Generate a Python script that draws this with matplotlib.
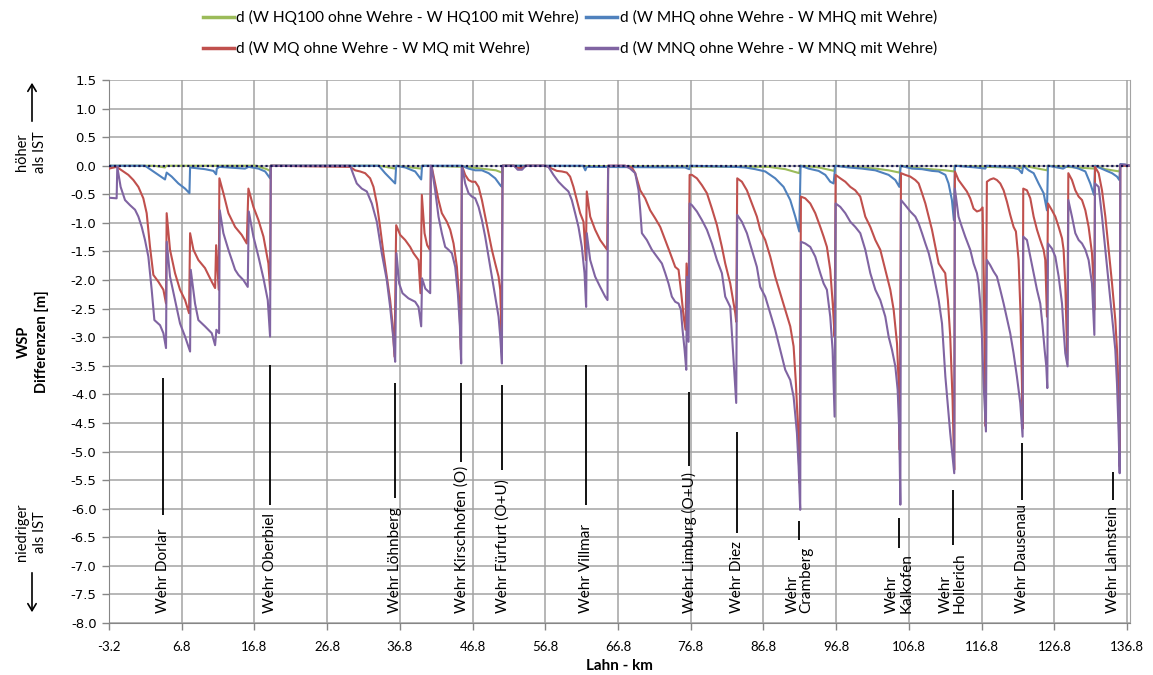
import matplotlib
matplotlib.use("Agg")
import matplotlib.pyplot as plt
import numpy as np

plt.rcParams['axes.unicode_minus'] = False
SANS = 'Lato'

# Lahn-km and water level differences (m) for the four discharge scenarios
km_hq100 = [-3.2, 3.0, 4.5, 4.7, 17.0, 18.5, 18.95, 19.05, 34.0, 36.15, 36.3, 39.7, 39.85,
            46.0, 48.0, 50.0, 50.83, 50.92, 87.5, 89.8, 91.72, 91.9, 94.4, 96.5, 96.67,
            102.2, 104.0, 105.5, 105.66, 108.6, 111.8, 113.0, 113.12, 122.3, 122.52,
            125.8, 125.92, 132.3, 132.39, 133.8, 135.73, 135.87, 137.2]
d_hq100 = [0.0, 0.0, -0.03, 0.0, 0.0, -0.06, -0.09, 0.0, 0.0, -0.05, 0.0, -0.05, 0.0,
           -0.02, -0.05, -0.08, -0.12, 0.0, -0.02, -0.06, -0.13, 0.0, -0.03, -0.09, 0.0,
           -0.05, -0.08, -0.12, 0.0, -0.05, -0.08, -0.10, 0.0, -0.04, 0.0,
           -0.08, 0.0, -0.05, 0.0, -0.06, -0.10, 0.0, 0.0]

km_mhq = [-3.2, 1.75, 2.67, 3.59, 4.5, 4.73, 5.42, 6.34, 7.26, 7.86, 7.95, 10.0, 11.16, 11.53,
          11.62, 11.98, 15.5, 16.0, 17.35, 18.27, 18.95, 19.05, 33.9, 34.77, 35.69, 36.15,
          36.29, 37.53, 38.9, 39.73, 39.85, 45.3, 46.24, 47.16, 48.08, 49.0, 49.91, 50.6,
          50.83, 50.92, 62.0, 62.3, 62.5, 76.0, 76.6, 76.7, 82.91, 84.29, 85.66, 87.04,
          88.41, 89.56, 90.48, 91.17, 91.72, 91.9, 93.0, 94.38, 95.3, 95.98, 96.44, 96.67,
          98.5, 100.34, 102.18, 104.01, 104.93, 105.48, 105.66, 107.22, 108.6, 109.97,
          110.89, 111.81, 112.25, 112.71, 112.98, 113.12, 116.0, 117.3, 117.5, 120.96,
          121.88, 122.34, 122.52, 123.26, 123.95, 124.63, 125.32, 125.78, 125.92, 128.0,
          128.7, 130.14, 131.06, 131.74, 132.25, 132.39, 133.81, 134.73, 135.41, 135.73,
          135.87, 136.5, 137.2]
d_mhq = [0.0, 0.0, -0.08, -0.16, -0.24, -0.12, -0.19, -0.31, -0.40, -0.48, -0.03, -0.06, -0.09,
         -0.15, -0.05, -0.02, -0.05, -0.02, -0.05, -0.10, -0.22, 0.0, 0.0, -0.13, -0.25, -0.31,
         0.0, -0.03, -0.10, -0.24, 0.0, 0.0, -0.05, -0.08, -0.08, -0.13, -0.22, -0.34,
         -0.37, 0.0, 0.0, -0.08, -0.02, -0.03, -0.06, 0.0, -0.02, -0.03, -0.06, -0.10,
         -0.22, -0.37, -0.60, -0.89, -1.15, 0.0, -0.05, -0.09, -0.16, -0.28, -0.31, 0.0,
         -0.03, -0.05, -0.08, -0.16, -0.25, -0.37, 0.0, -0.05, -0.06, -0.09,
         -0.10, -0.16, -0.31, -0.60, -0.95, 0.0, -0.03, -0.05, 0.0, -0.03,
         -0.06, -0.13, 0.0, -0.08, -0.13, -0.31, -0.48, -0.78, 0.0, -0.05,
         0.0, -0.05, -0.10, -0.31, -0.51, 0.0, -0.08, -0.13, -0.19, -0.25,
         0.03, 0.02, 0.0]

km_mq = [-3.2, -2.15, -1.46, -0.54, 0.15, 0.84, 1.52, 1.98, 2.44, 2.9, 3.59, 4.28, 4.64,
         4.73, 5.19, 5.88, 6.57, 7.26, 7.81, 7.95, 8.41, 9.09, 10.0, 10.93, 11.39, 11.53,
         11.89, 11.98, 12.53, 13.22, 14.14, 15.05, 15.74, 15.97, 16.66, 17.35, 18.04, 18.72,
         18.95, 19.05, 29.96, 30.64, 31.33, 32.02, 32.71, 33.17, 33.63, 34.08, 34.54, 35.0,
         35.46, 35.78, 36.06, 36.29, 36.84, 37.53, 38.21, 38.67, 39.36, 39.63, 39.82, 40.19,
         40.55, 40.92, 41.06, 41.2, 41.65, 42.11, 42.57, 43.26, 43.72, 44.18, 44.64, 44.96,
         45.19, 45.32, 45.42, 45.78, 46.24, 46.7, 47.16, 47.62, 48.08, 48.53, 48.99, 49.45,
         49.91, 50.37, 50.6, 50.78, 50.92, 52.5, 53.0, 53.6, 54.1, 56.77, 57.23, 57.69,
         58.38, 59.07, 59.75, 60.21, 60.67, 61.13, 61.59, 62.05, 62.37, 62.5, 62.97, 63.65,
         64.34, 65.03, 65.3, 65.44, 67.78, 68.24, 68.7, 69.16, 69.85, 70.53, 71.22, 71.91,
         72.6, 73.29, 73.97, 74.66, 75.12, 75.49, 75.81, 76.08, 76.22, 76.5, 76.64, 76.96,
         77.64, 78.33, 79.02, 79.71, 80.4, 81.08, 81.54, 82.23, 82.92, 83.05, 83.19, 83.83,
         84.52, 85.2, 85.89, 86.35, 87.04, 87.73, 88.41, 89.1, 89.79, 90.48, 90.94, 91.26,
         91.53, 91.76, 91.95, 92.54, 93.23, 93.92, 94.61, 95.07, 95.52, 95.98, 96.35, 96.58,
         96.72, 97.36, 98.05, 98.74, 99.42, 100.11, 100.8, 101.49, 102.18, 102.86, 103.55,
         104.24, 104.7, 105.16, 105.39, 105.53, 105.71, 106.3, 106.99, 107.68, 108.14, 108.6,
         109.06, 109.52, 109.97, 110.43, 110.89, 111.35, 111.79, 112.16, 112.48, 112.8,
         113.03, 113.12, 113.62, 114.31, 114.77, 115.23, 115.69, 116.15, 116.61, 116.93,
         117.11, 117.29, 117.52, 117.98, 118.44, 118.9, 119.36, 119.82, 120.28, 120.73,
         121.19, 121.51, 121.88, 122.16, 122.34, 122.43, 122.52, 123.03, 123.49, 123.95,
         124.41, 124.86, 125.32, 125.55, 125.78, 125.92, 126.47, 126.93, 127.39, 127.85,
         128.07, 128.3, 128.58, 128.72, 129.22, 129.68, 130.14, 130.6, 131.06, 131.51,
         131.97, 132.2, 132.3, 132.39, 132.89, 133.35, 133.81, 134.27, 134.73, 135.18,
         135.41, 135.64, 135.78, 135.87, 137.2]
d_mq = [-0.05, -0.02, -0.08, -0.16, -0.25, -0.37, -0.57, -0.83, -1.42, -1.91, -2.03, -2.17, -2.41,
        -0.83, -1.47, -1.88, -2.17, -2.35, -2.58, -1.18, -1.47, -1.65, -1.79, -2.03, -2.14, -1.39,
        -2.17, -0.22, -0.48, -0.83, -1.07, -1.21, -1.36, -0.40, -0.72, -0.95, -1.24, -1.71,
        -2.17, 0.0, -0.02, -0.08, -0.10, -0.13, -0.22, -0.37, -0.66, -1.07, -1.53, -1.94,
        -2.35, -2.76, -3.34, -1.04, -1.21, -1.30, -1.42, -1.53, -1.65, -2.23, -0.51, -1.18,
        -1.39, -1.47, 0.0, -0.03, -0.31, -0.60, -0.83, -0.98, -1.12, -1.36, -1.77, -2.35,
        -3.22, -0.02, -0.03, -0.16, -0.25, -0.28, -0.28, -0.37, -0.60, -0.89, -1.18, -1.47,
        -1.71, -1.94, -2.17, -2.99, 0.0, 0.0, -0.04, -0.04, 0.0, 0.0, -0.02, -0.05,
        -0.09, -0.10, -0.12, -0.19, -0.37, -0.60, -0.83, -0.98, -1.65, -0.45, -0.89, -1.12,
        -1.30, -1.42, -1.47, 0.0, 0.0, -0.02, -0.03, -0.13, -0.43, -0.57, -0.78, -0.92,
        -1.07, -1.30, -1.53, -1.77, -1.82, -2.23, -2.64, -2.87, -1.71, -2.41, -0.16, -0.16,
        -0.22, -0.34, -0.48, -0.75, -1.04, -1.42, -1.71, -2.06, -2.58, -2.73, -0.22, -0.28,
        -0.43, -0.66, -0.89, -1.12, -1.30, -1.59, -1.94, -2.23, -2.52, -2.81, -3.16, -3.81,
        -4.56, -5.55, -0.54, -0.57, -0.66, -0.83, -1.07, -1.24, -1.42, -1.82, -2.47, -2.99,
        -0.16, -0.22, -0.28, -0.37, -0.43, -0.54, -0.89, -1.07, -1.30, -1.47, -1.82,
        -2.17, -2.52, -3.11, -3.81, -4.97, -0.13, -0.16, -0.19, -0.25, -0.31, -0.48,
        -0.66, -0.89, -1.12, -1.42, -1.71, -1.80, -1.88, -2.35, -2.99, -4.10,
        -5.32, -0.10, -0.25, -0.37, -0.45, -0.57, -0.75, -0.80, -0.78, -0.73,
        -2.06, -4.55, -0.28, -0.24, -0.22, -0.25, -0.31, -0.43, -0.63, -0.86,
        -1.07, -1.15, -1.65, -2.64, -3.81, -4.60, -0.40, -0.43, -0.57, -0.89,
        -1.12, -1.30, -1.47, -1.65, -2.64, -0.66, -0.78, -0.89, -1.07, -1.27,
        -1.47, -2.06, -3.40, -0.13, -0.25, -0.43, -0.54, -0.60, -0.78, -1.07,
        -1.53, -2.06, -2.52, -0.02, -0.13, -0.43, -0.89, -1.47, -2.06, -2.70,
        -3.22, -4.10, -5.26, 0.0, 0.0]

km_mnq = [-3.2, -2.15, -2.06, -1.6, -1.0, -0.31, 0.38, 0.84, 1.30, 1.75, 2.21, 2.67, 3.04, 3.82,
          4.28, 4.64, 4.74, 5.19, 5.88, 6.57, 7.26, 7.95, 8.04, 8.63, 9.09, 10.0, 10.93, 11.39,
          11.57, 11.94, 12.03, 12.53, 13.22, 14.14, 14.6, 15.28, 15.88, 16.02, 16.66, 17.35,
          18.04, 18.63, 18.95, 19.05, 29.96, 30.42, 30.87, 31.56, 32.25, 32.94, 33.63, 34.31,
          35.0, 35.46, 35.92, 36.15, 36.33, 36.7, 37.16, 37.98, 38.9, 39.36, 39.73, 39.85,
          40.3, 40.97, 41.06, 41.2, 41.65, 42.11, 42.57, 43.03, 43.49, 43.95, 44.41, 44.77,
          45.05, 45.23, 45.32, 45.42, 45.78, 46.24, 46.7, 47.16, 47.62, 48.08, 48.53, 48.99,
          49.45, 49.91, 50.37, 50.6, 50.83, 50.92, 52.5, 53.0, 53.6, 54.1, 56.77, 57.23,
          57.92, 58.61, 59.3, 59.98, 60.44, 60.9, 61.36, 61.82, 62.19, 62.41, 62.5, 62.97,
          63.65, 64.34, 65.03, 65.35, 65.44, 67.78, 68.47, 69.16, 69.62, 69.85, 70.08, 70.76,
          71.45, 72.14, 72.83, 73.29, 73.74, 74.2, 74.66, 75.12, 75.44, 75.67, 75.95, 76.18,
          76.27, 76.5, 76.64, 76.96, 77.64, 78.33, 79.02, 79.71, 80.4, 81.08, 81.54, 82.23,
          82.92, 83.05, 83.19, 83.83, 84.52, 85.2, 85.89, 86.35, 87.04, 87.73, 88.41, 89.1,
          89.79, 90.48, 90.94, 91.4, 91.63, 91.85, 91.95, 92.54, 93.23, 93.92, 94.61, 95.07,
          95.52, 95.98, 96.3, 96.58, 96.72, 97.36, 98.05, 98.74, 99.42, 100.11, 100.8, 101.49,
          102.18, 102.86, 103.55, 104.01, 104.47, 104.93, 105.25, 105.48, 105.62, 105.71,
          106.3, 106.99, 107.68, 108.14, 108.6, 109.06, 109.52, 109.97, 110.43, 110.89,
          111.35, 111.81, 112.48, 113.03, 113.12, 113.62, 114.08, 114.54, 115.23, 115.69,
          116.15, 116.38, 116.61, 116.84, 117.07, 117.39, 117.52, 117.98, 118.44, 118.9,
          119.36, 119.82, 120.28, 120.73, 121.19, 121.65, 122.11, 122.43, 122.52, 123.03,
          123.49, 123.95, 124.41, 124.86, 125.18, 125.46, 125.69, 125.83, 125.92, 126.47,
          126.93, 127.39, 127.85, 128.07, 128.3, 128.62, 128.72, 129.22, 129.68, 130.14,
          130.6, 131.06, 131.51, 131.97, 132.3, 132.39, 132.89, 133.35, 133.81, 134.27,
          134.73, 135.18, 135.41, 135.64, 135.78, 135.87, 136.5, 137.2]
d_mnq = [-0.56, -0.57, -0.02, -0.37, -0.60, -0.69, -0.77, -0.89, -1.07, -1.30, -1.59, -2.17, -2.70, -2.79,
         -2.93, -3.19, -1.33, -1.94, -2.35, -2.76, -2.99, -3.25, -1.82, -2.41, -2.70, -2.81, -2.93, -3.14,
         -2.87, -2.93, -0.78, -1.18, -1.47, -1.82, -1.91, -2.00, -2.12, -0.80, -1.24, -1.59,
         -1.97, -2.35, -2.99, 0.0, 0.0, -0.16, -0.31, -0.40, -0.45, -0.66, -0.98, -1.53,
         -2.00, -2.47, -3.05, -3.43, -1.53, -2.06, -2.23, -2.32, -2.38, -2.47, -2.81, -1.97,
         -2.15, -2.23, 0.0, -0.05, -0.43, -0.89, -1.18, -1.42, -1.47, -1.53, -1.77, -2.23,
         -2.81, -3.46, -0.02, -0.05, -0.31, -0.48, -0.54, -0.57, -0.72, -0.95, -1.24, -1.59,
         -1.94, -2.29, -2.64, -2.99, -3.46, 0.0, 0.0, -0.07, -0.07, 0.0, 0.0, -0.02,
         -0.16, -0.28, -0.37, -0.45, -0.60, -0.83, -1.07, -1.42, -1.88, -2.47, -1.18, -1.65,
         -1.94, -2.12, -2.29, -2.35, 0.0, 0.0, -0.05, -0.13, -0.43, -0.78, -1.18, -1.30,
         -1.47, -1.59, -1.71, -1.88, -2.06, -2.29, -2.38, -2.41, -2.52, -2.87, -3.22, -3.57,
         -1.94, -3.08, -0.66, -0.69, -0.80, -0.95, -1.12, -1.36, -1.65, -1.88, -2.29, -2.47,
         -3.86, -4.15, -0.86, -0.98, -1.18, -1.47, -1.77, -2.12, -2.29, -2.58, -2.87, -3.22,
         -3.57, -3.75, -4.04, -4.68, -5.26, -6.02, -1.33, -1.36, -1.42, -1.59, -1.88, -2.06,
         -2.17, -2.64, -3.22, -4.39, -0.66, -0.72, -0.83, -0.98, -1.07, -1.18, -1.47, -1.88,
         -2.17, -2.35, -2.64, -2.99, -3.22, -3.51, -3.92, -4.68, -5.93, -0.60,
         -0.69, -0.80, -0.89, -1.01, -1.18, -1.36, -1.53, -1.77, -2.06, -2.35,
         -2.76, -3.69, -4.68, -5.38, -0.40, -0.89, -1.07, -1.24, -1.47, -1.71,
         -1.88, -2.06, -2.41, -2.99, -3.81, -4.65, -1.65, -1.74, -1.85, -1.94,
         -2.17, -2.41, -2.67, -2.93, -3.28, -3.69, -4.15, -4.74, -1.24, -1.30,
         -1.59, -1.88, -2.17, -2.41, -2.81, -3.22, -3.51, -3.89, -1.36, -1.45,
         -1.59, -1.94, -2.41, -2.87, -3.28, -3.51, -0.60, -0.89, -1.18, -1.30,
         -1.36, -1.47, -1.65, -2.06, -2.96, -0.31, -0.37, -0.89, -1.47, -2.06,
         -2.64, -3.22, -3.81, -4.68, -5.38, 0.02, 0.02, 0.0]

series_labels = ["d (W HQ100 ohne Wehre - W HQ100 mit Wehre)",
                 "d (W MHQ ohne Wehre - W MHQ mit Wehre)",
                 "d (W MQ ohne Wehre - W MQ mit Wehre)",
                 "d (W MNQ ohne Wehre - W MNQ mit Wehre)"]

# Weirs: name, position (km) and extent of the marker line (m)
weir_names = ["Wehr Dorlar", "Wehr Oberbiel", "Wehr Löhnberg", "Wehr Kirschhofen (O)",
              "Wehr Fürfurt (O+U)", "Wehr Villmar", "Wehr Limburg (O+U)", "Wehr Diez",
              "Wehr\nCramberg", "Wehr\nKalkofen", "Wehr\nHollerich", "Wehr Dausenau",
              "Wehr Lahnstein"]
weir_km = [4.23, 18.95, 36.14, 45.22, 50.86, 62.37, 76.62, 83.14, 91.74, 105.47, 112.8,
           122.34, 134.86]
weir_top = [-3.71, -3.49, -3.80, -3.80, -3.83, -3.49, -3.95, -4.65, -6.22, -6.16, -5.67,
            -4.85, -5.35]
weir_bottom = [-6.11, -5.93, -5.81, -5.18, -5.32, -5.93, -5.26, -6.43, -6.54, -6.69, -6.63,
               -5.85, -5.85]

x_ticks = np.arange(-3.2, 137.0, 10.0)
y_ticks = np.arange(-8.0, 1.51, 0.5)

W, H = 1153, 675
fig = plt.figure(figsize=(W / 100, H / 100), dpi=100)
ax = fig.add_axes([109 / W, 1 - 623 / H, (1130 - 109) / W, (623 - 80) / H])

col_hq100 = '#9BBB59'
col_mhq = '#4F81BD'
col_mq = '#C0504D'
col_mnq = '#8064A2'
lw = 1.5

l1, = ax.plot(km_hq100, d_hq100, color=col_hq100, lw=lw, zorder=3)
l2, = ax.plot(km_mhq, d_mhq, color=col_mhq, lw=lw, zorder=4)
l3, = ax.plot(km_mq, d_mq, color=col_mq, lw=lw, zorder=5)
l4, = ax.plot(km_mnq, d_mnq, color=col_mnq, lw=lw, zorder=6)
ax.axhline(0, color='#141450', lw=1.6, ls=(0, (1, 1.2)), zorder=7)

ax.vlines(weir_km, weir_bottom, weir_top, color='black', lw=1.3, zorder=8)
for name, km in zip(weir_names, weir_km):
    ax.text(km, -7.82, name, rotation=90, ha='center', va='bottom', multialignment='left',
            fontsize=11, family=SANS, linespacing=1.0, zorder=9)

ax.set_xlim(-3.2, 137.2)
ax.set_ylim(-8.0, 1.5)
ax.set_xticks(x_ticks)
ax.set_xticklabels([f"{v:.1f}" for v in x_ticks], family=SANS, fontsize=9.5)
ax.set_yticks(y_ticks)
ax.set_yticklabels([f"{v:.1f}" for v in y_ticks], family='DejaVu Sans', fontsize=9.5)
ax.tick_params(axis='x', direction='out', length=5, width=1, color='#868686', pad=8)
ax.tick_params(axis='y', direction='out', length=5, width=1, color='#868686', pad=4)
ax.grid(True, color='#a3a3a3', lw=1.1)
ax.set_axisbelow(True)
ax.spines['top'].set_visible(False)
ax.spines['right'].set_color('#a3a3a3')
ax.spines['left'].set_color('#868686')
ax.spines['bottom'].set_color('#868686')

ax.set_xlabel("Lahn - km", family=SANS, fontsize=11, fontweight='bold', labelpad=4)


def fig_text(px, py, s, **kw):
    fig.text(px / W, 1 - py / H, s, **kw)


fig_text(33, 342, "WSP\nDifferenzen [m]", rotation=90, ha='center', va='center',
         multialignment='center', family=SANS, fontsize=10.5, fontweight='bold', linespacing=1.3)
fig_text(31, 152, "höher\nals IST", rotation=90, ha='center', va='center',
         multialignment='center', family=SANS, fontsize=10.5, linespacing=1.3)
fig_text(31, 532, "niedriger\nals IST", rotation=90, ha='center', va='center',
         multialignment='center', family=SANS, fontsize=10.5, linespacing=1.3)
fig.add_artist(matplotlib.patches.FancyArrowPatch(
    (32 / W, 1 - 124 / H), (32 / W, 1 - 80 / H), transform=fig.transFigure,
    arrowstyle='->,head_length=5,head_width=3', lw=1.2, color='black'))
fig.add_artist(matplotlib.patches.FancyArrowPatch(
    (32 / W, 1 - 570 / H), (32 / W, 1 - 615 / H), transform=fig.transFigure,
    arrowstyle='->,head_length=5,head_width=3', lw=1.2, color='black'))

leg = fig.legend([l1, l3, l2, l4],
                 [series_labels[0], series_labels[2], series_labels[1], series_labels[3]],
                 ncol=2, loc='upper left', bbox_to_anchor=(203 / W, 1 - 10 / H),
                 frameon=False, prop={'family': SANS, 'size': 11.2},
                 handlelength=2.0, handletextpad=0.15, columnspacing=0.45,
                 labelspacing=1.05, borderpad=0, borderaxespad=0)
for h in leg.legend_handles:
    h.set_linewidth(2.5)

fig.savefig("out.png", dpi=100)
